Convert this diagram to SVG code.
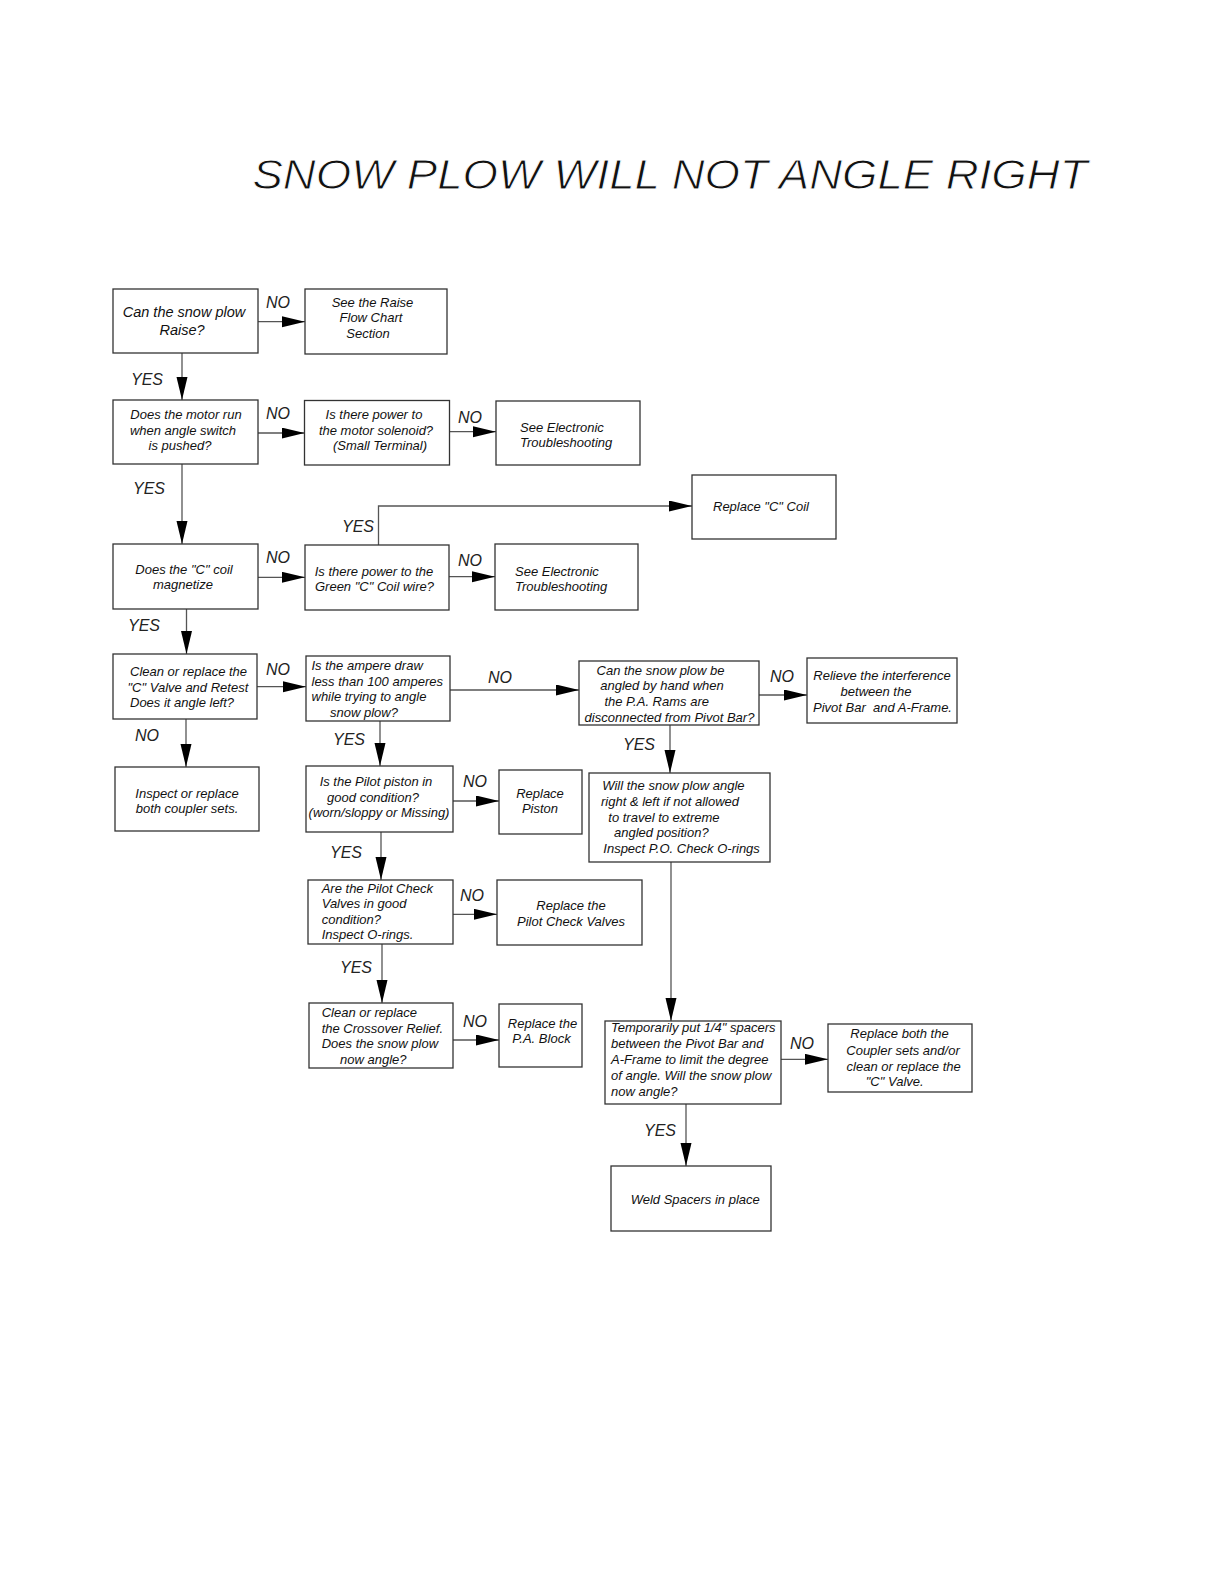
<svg xmlns="http://www.w3.org/2000/svg" width="1224" height="1584" viewBox="0 0 1224 1584">
<style>
.box{fill:#fff;stroke:#333;stroke-width:1.3}
.ln{fill:none;stroke:#555;stroke-width:1.3}
text{font-family:"Liberation Sans",Arial,sans-serif;font-style:italic;fill:#111}
.t{font-size:13px}
.tb{font-size:14.5px}
.c{text-anchor:middle}
.lbl{font-size:16px;fill:#222}
.title{font-size:42px;stroke:#fff;stroke-width:0.9}
</style>
<defs>
<marker id="ah" markerUnits="userSpaceOnUse" markerWidth="24" markerHeight="12" refX="23" refY="5.5" orient="auto">
<path d="M0,0 L23,5.5 L0,11 Z" fill="#000"/>
</marker>
</defs>
<rect width="1224" height="1584" fill="#fff"/>
<text class="title" x="252.5" y="188.5" textLength="835" lengthAdjust="spacingAndGlyphs">SNOW PLOW WILL NOT ANGLE RIGHT</text>

<g id="connectors">
<line class="ln" x1="258" y1="321.7" x2="305" y2="321.7" marker-end="url(#ah)"/>
<line class="ln" x1="182" y1="353" x2="182" y2="400" marker-end="url(#ah)"/>
<line class="ln" x1="258" y1="433" x2="304.5" y2="433" marker-end="url(#ah)"/>
<line class="ln" x1="449" y1="431.7" x2="496" y2="431.7" marker-end="url(#ah)"/>
<line class="ln" x1="182" y1="464" x2="182" y2="544" marker-end="url(#ah)"/>
<line class="ln" x1="258" y1="577.3" x2="305" y2="577.3" marker-end="url(#ah)"/>
<line class="ln" x1="449" y1="576.7" x2="495" y2="576.7" marker-end="url(#ah)"/>
<polyline class="ln" points="378.5,545 378.5,506 692,506" marker-end="url(#ah)"/>
<line class="ln" x1="186.5" y1="609" x2="186.5" y2="654" marker-end="url(#ah)"/>
<line class="ln" x1="257" y1="686.7" x2="306" y2="686.7" marker-end="url(#ah)"/>
<line class="ln" x1="186" y1="719" x2="186" y2="767" marker-end="url(#ah)"/>
<line class="ln" x1="450" y1="690" x2="579" y2="690" marker-end="url(#ah)"/>
<line class="ln" x1="759" y1="695" x2="807" y2="695" marker-end="url(#ah)"/>
<line class="ln" x1="380" y1="721" x2="380" y2="766" marker-end="url(#ah)"/>
<line class="ln" x1="670" y1="725" x2="670" y2="773" marker-end="url(#ah)"/>
<line class="ln" x1="453" y1="801" x2="499" y2="801" marker-end="url(#ah)"/>
<line class="ln" x1="381" y1="832" x2="381" y2="880" marker-end="url(#ah)"/>
<line class="ln" x1="453" y1="914.3" x2="497" y2="914.3" marker-end="url(#ah)"/>
<line class="ln" x1="382" y1="944" x2="382" y2="1003" marker-end="url(#ah)"/>
<line class="ln" x1="453" y1="1040" x2="499" y2="1040" marker-end="url(#ah)"/>
<line class="ln" x1="671" y1="862" x2="671" y2="1021" marker-end="url(#ah)"/>
<line class="ln" x1="781" y1="1059.3" x2="828" y2="1059.3" marker-end="url(#ah)"/>
<line class="ln" x1="686" y1="1104" x2="686" y2="1166" marker-end="url(#ah)"/>
<g class="lbl">
<text class="lbl" x="266" y="308">NO</text>
<text class="lbl" x="131" y="385">YES</text>
<text class="lbl" x="266" y="419">NO</text>
<text class="lbl" x="458" y="423">NO</text>
<text class="lbl" x="133" y="494">YES</text>
<text class="lbl" x="266" y="563">NO</text>
<text class="lbl" x="458" y="566">NO</text>
<text class="lbl" x="342" y="532">YES</text>
<text class="lbl" x="128" y="631">YES</text>
<text class="lbl" x="266" y="675">NO</text>
<text class="lbl" x="135" y="741">NO</text>
<text class="lbl" x="488" y="683">NO</text>
<text class="lbl" x="770" y="682">NO</text>
<text class="lbl" x="333" y="745">YES</text>
<text class="lbl" x="623" y="750">YES</text>
<text class="lbl" x="463" y="787">NO</text>
<text class="lbl" x="330" y="858">YES</text>
<text class="lbl" x="460" y="901">NO</text>
<text class="lbl" x="340" y="973">YES</text>
<text class="lbl" x="463" y="1027">NO</text>
<text class="lbl" x="790" y="1049">NO</text>
<text class="lbl" x="644" y="1136">YES</text>
</g>
</g>

<g id="n1"><rect class="box" x="113" y="289" width="145" height="64"/>
<text class="tb c" x="184" y="316.7">Can the snow plow</text><text class="tb c" x="182" y="335">Raise?</text></g>
<g id="n2"><rect class="box" x="305" y="289" width="142" height="65"/>
<text class="t c" x="372.5" y="306.7">See the Raise</text><text class="t c" x="371" y="322">Flow Chart</text><text class="t c" x="368" y="338">Section</text></g>
<g id="n3"><rect class="box" x="113" y="400" width="145" height="64"/>
<text class="t c" x="186" y="419">Does the motor run</text><text class="t c" x="183" y="435">when angle switch</text><text class="t c" x="180" y="450">is pushed?</text></g>
<g id="n4"><rect class="box" x="304.5" y="400.5" width="145" height="64.5"/>
<text class="t c" x="374" y="419">Is there power to</text><text class="t c" x="376" y="435">the motor solenoid?</text><text class="t c" x="380" y="450">(Small Terminal)</text></g>
<g id="n5"><rect class="box" x="496" y="401" width="144" height="64"/>
<text class="t" x="520" y="432">See Electronic</text><text class="t" x="520" y="447">Troubleshooting</text></g>
<g id="n6"><rect class="box" x="692" y="475" width="144" height="64"/>
<text class="t" x="713" y="511">Replace "C" Coil</text></g>
<g id="n7"><rect class="box" x="113" y="544" width="145" height="65"/>
<text class="t c" x="184" y="573.5">Does the "C" coil</text><text class="t c" x="183" y="588.5">magnetize</text></g>
<g id="n8"><rect class="box" x="305" y="545" width="144" height="65"/>
<text class="t c" x="374" y="575.5">Is there power to the</text><text class="t c" x="374.5" y="590.5">Green "C" Coil wire?</text></g>
<g id="n9"><rect class="box" x="495" y="544" width="143" height="66"/>
<text class="t" x="515" y="575.7">See Electronic</text><text class="t" x="515" y="590.7">Troubleshooting</text></g>
<g id="n10"><rect class="box" x="113" y="654" width="144" height="65"/>
<text class="t" x="130" y="676">Clean or replace the</text><text class="t" x="127.5" y="692">"C" Valve and Retest</text><text class="t" x="130" y="707">Does it angle left?</text></g>
<g id="n11"><rect class="box" x="306" y="656" width="144" height="65"/>
<text class="t" x="311.5" y="670">Is the ampere draw</text><text class="t" x="311.5" y="686">less than 100 amperes</text><text class="t" x="311.5" y="701">while trying to angle</text><text class="t" x="330" y="716.7">snow plow?</text></g>
<g id="n12"><rect class="box" x="115" y="767" width="144" height="64"/>
<text class="t c" x="187" y="797.7">Inspect or replace</text><text class="t c" x="187" y="812.7">both coupler sets.</text></g>
<g id="n13"><rect class="box" x="306" y="766" width="147" height="66"/>
<text class="t c" x="376" y="786">Is the Pilot piston in</text><text class="t c" x="373" y="801.7">good condition?</text><text class="t c" x="379" y="816.7">(worn/sloppy or Missing)</text></g>
<g id="n14"><rect class="box" x="499" y="770" width="83" height="64"/>
<text class="t c" x="540" y="797.7">Replace</text><text class="t c" x="540" y="813.3">Piston</text></g>
<g id="n15"><rect class="box" x="308" y="880" width="145" height="64"/>
<text class="t" x="321.7" y="892.7">Are the Pilot Check</text><text class="t" x="321.7" y="908.3">Valves in good</text><text class="t" x="321.7" y="924">condition?</text><text class="t" x="321.7" y="939.3">Inspect O-rings.</text></g>
<g id="n16"><rect class="box" x="497" y="880" width="145" height="65"/>
<text class="t c" x="571" y="910">Replace the</text><text class="t c" x="571" y="925.7">Pilot Check Valves</text></g>
<g id="n17"><rect class="box" x="309" y="1003" width="144" height="65"/>
<text class="t" x="321.7" y="1016.7">Clean or replace</text><text class="t" x="321.7" y="1032.7">the Crossover Relief.</text><text class="t" x="321.7" y="1048.3">Does the snow plow</text><text class="t" x="340" y="1064">now angle?</text></g>
<g id="n18"><rect class="box" x="499" y="1004" width="83" height="63"/>
<text class="t c" x="542.5" y="1028.3">Replace the</text><text class="t c" x="541.5" y="1043.3">P.A. Block</text></g>
<g id="n19"><rect class="box" x="579" y="661" width="180" height="64"/>
<text class="t c" x="660.5" y="675">Can the snow plow be</text><text class="t c" x="662" y="690">angled by hand when</text><text class="t c" x="656.7" y="705.7">the P.A. Rams are</text><text class="t c" x="669.5" y="721.7">disconnected from Pivot Bar?</text></g>
<g id="n20"><rect class="box" x="807" y="658" width="150" height="65"/>
<text class="t c" x="882" y="680">Relieve the interference</text><text class="t c" x="876" y="695.7">between the</text><text class="t c" x="882.5" y="712.3" xml:space="preserve">Pivot Bar  and A-Frame.</text></g>
<g id="n21"><rect class="box" x="589" y="773" width="181" height="89"/>
<text class="t" x="602.3" y="790">Will the snow plow angle</text><text class="t" x="601" y="805.7">right &amp; left if not allowed</text><text class="t" x="608.3" y="821.7">to travel to extreme</text><text class="t" x="614" y="837.3">angled position?</text><text class="t" x="603.3" y="853.3">Inspect P.O. Check O-rings</text></g>
<g id="n22"><rect class="box" x="605" y="1021" width="176" height="83"/>
<text class="t" x="611" y="1032.3">Temporarily put 1/4" spacers</text><text class="t" x="611" y="1048.3">between the Pivot Bar and</text><text class="t" x="611" y="1064.3">A-Frame to limit the degree</text><text class="t" x="611" y="1080">of angle. Will the snow plow</text><text class="t" x="611" y="1095.7">now angle?</text></g>
<g id="n23"><rect class="box" x="828" y="1024" width="144" height="68"/>
<text class="t c" x="899.5" y="1038.3">Replace both the</text><text class="t c" x="903" y="1055">Coupler sets and/or</text><text class="t c" x="903.7" y="1070.7">clean or replace the</text><text class="t c" x="894.7" y="1086">"C" Valve.</text></g>
<g id="n24"><rect class="box" x="611" y="1166" width="160" height="65"/>
<text class="t" x="630.7" y="1204">Weld Spacers in place</text></g>
</svg>
